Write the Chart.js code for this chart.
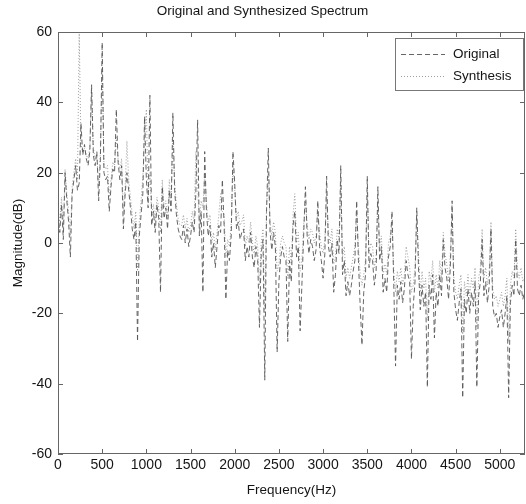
<!DOCTYPE html>
<html>
<head>
<meta charset="utf-8">
<title>Original and Synthesized Spectrum</title>
<script src="https://cdn.jsdelivr.net/npm/chart.js@4.4.0/dist/chart.umd.min.js"></script>
<style>
  html, body { margin: 0; padding: 0; background: #fff; }
  #spectrum { display: block; }
</style>
</head>
<body>
<canvas id="spectrum" width="526" height="504"></canvas>
<script>
// frequency bins (Hz)
const freqHz = [
  0, 20, 40, 60, 80, 100, 120, 140, 160, 180,
  200, 220, 240, 260, 280, 300, 320, 340, 360, 380,
  400, 420, 440, 460, 480, 500, 520, 540, 560, 580,
  600, 620, 640, 660, 680, 700, 720, 740, 760, 780,
  800, 820, 840, 860, 880, 900, 920, 940, 960, 980,
  1000, 1020, 1040, 1060, 1080, 1100, 1120, 1140, 1160, 1180,
  1200, 1220, 1240, 1260, 1280, 1300, 1320, 1340, 1360, 1380,
  1400, 1420, 1440, 1460, 1480, 1500, 1520, 1540, 1560, 1580,
  1600, 1620, 1640, 1660, 1680, 1700, 1720, 1740, 1760, 1780,
  1800, 1820, 1840, 1860, 1880, 1900, 1920, 1940, 1960, 1980,
  2000, 2020, 2040, 2060, 2080, 2100, 2120, 2140, 2160, 2180,
  2200, 2220, 2240, 2260, 2280, 2300, 2320, 2340, 2360, 2380,
  2400, 2420, 2440, 2460, 2480, 2500, 2520, 2540, 2560, 2580,
  2600, 2620, 2640, 2660, 2680, 2700, 2720, 2740, 2760, 2780,
  2800, 2820, 2840, 2860, 2880, 2900, 2920, 2940, 2960, 2980,
  3000, 3020, 3040, 3060, 3080, 3100, 3120, 3140, 3160, 3180,
  3200, 3220, 3240, 3260, 3280, 3300, 3320, 3340, 3360, 3380,
  3400, 3420, 3440, 3460, 3480, 3500, 3520, 3540, 3560, 3580,
  3600, 3620, 3640, 3660, 3680, 3700, 3720, 3740, 3760, 3780,
  3800, 3820, 3840, 3860, 3880, 3900, 3920, 3940, 3960, 3980,
  4000, 4020, 4040, 4060, 4080, 4100, 4120, 4140, 4160, 4180,
  4200, 4220, 4240, 4260, 4280, 4300, 4320, 4340, 4360, 4380,
  4400, 4420, 4440, 4460, 4480, 4500, 4520, 4540, 4560, 4580,
  4600, 4620, 4640, 4660, 4680, 4700, 4720, 4740, 4760, 4780,
  4800, 4820, 4840, 4860, 4880, 4900, 4920, 4940, 4960, 4980,
  5000, 5020, 5040, 5060, 5080, 5100, 5120, 5140, 5160, 5180,
  5200, 5220, 5240, 5260, 5280
];

// magnitude of the original frame (dB)
const originalDb = [
  8, 3, 11, 1, 20, 12, 6, -4, 14, 18,
  22, 15, 17, 34, 25, 28, 24, 22, 26, 45,
  25, 22, 26, 12, 24, 57, 20, 18, 19, 9,
  16, 21, 20, 38, 23, 18, 22, 4, 14, 20,
  15, 10, 4, 1, 6, -28, 2, 8, 14, 36,
  18, 10, 42, 5, 9, 3, 11, 7, -14, 16,
  7, 10, 4, 15, 9, 37, 15, 8, 4, 2,
  1, 5, 0, 4, -1, 2, 6, 3, 14, 35,
  2, 9, -14, 26, 9, 2, 5, -4, 0, -7,
  -1, 5, 3, 18, 5, -16, -2, -5, 2, 26,
  17, 4, 6, 1, 3, 4, -5, -1, -4, 3,
  -4, -7, -1, -5, -24, -3, 1, -39, 9, 27,
  3, -2, 3, -1, -31, -11, -4, -1, -4, -5,
  -28, -5, -11, 5, 9, -4, -1, -25, -12, 2,
  16, 2, -3, 1, -1, -5, -2, 12, -1, -5,
  -10, -3, 19, -1, -4, 0, -14, -9, 1, -3,
  22, -9, -5, -15, -11, -15, -12, -8, -5, 12,
  -5, -18, -29, -14, -9, 19, -7, -3, -5, -12,
  -8, 16, -5, -1, -14, -10, -14, -4, -1, 9,
  -12, -35, -12, -16, -11, -17, -13, -5, -9, -11,
  -33, -18, -11, 10, -7, -19, -12, -18, -14, -41,
  -12, -16, -9, -27, -14, -18, -9, -15, 1, -7,
  -10, -16, -7, 12, -14, -19, -22, -17, -13, -44,
  -16, -20, -13, -20, -14, -18, -11, -41, -15, -11,
  1, -15, -11, -17, -12, 4, -18, -21, -20, -24,
  -21, -19, -24, -20, -15, -44, -17, -12, -15, 1,
  -13, -15, -12, -16, -14
];

// magnitude of the resynthesized frame (dB)
const synthesisDb = [
  10, 6, 13, 4, 21, 14, 9, 2, 16, 20,
  24, 18, 60, 28, 26, 27, 25, 24, 27, 44,
  27, 24, 25, 16, 26, 50, 22, 21, 22, 13,
  18, 23, 22, 30, 24, 21, 24, 9, 16, 29,
  18, 13, 8, 4, 9, -8, 6, 12, 19, 30,
  38, 13, 20, 8, 11, 6, 13, 10, 3, 18,
  10, 12, 7, 18, 12, 30, 17, 11, 7, 5,
  5, 8, 4, 7, 3, 5, 9, 6, 26, 16,
  6, 12, 10, 20, 11, 6, 8, 0, 3, -2,
  3, 8, 14, 9, 8, -4, 1, -1, 5, 22,
  15, 7, 9, 5, 6, 8, -1, 2, 0, 6,
  0, -3, 2, -1, -12, 0, 4, -20, 10, 20,
  6, 2, 6, 3, -8, -6, 0, 2, 0, -1,
  -10, -1, -6, 8, 14, 0, 3, -8, -5, 5,
  12, 5, 1, 4, 3, 0, 2, 9, 3, -1,
  -3, 1, 14, 3, 0, 4, -6, -4, 4, 1,
  18, -4, -1, -10, -7, -10, -7, -4, -1, 9,
  -1, -9, -12, -9, -5, 15, -3, 0, -1, -7,
  -4, 12, -1, 2, -9, -6, -9, 0, 2, 6,
  -8, -14, -8, -11, -7, -12, -9, -1, -4, -7,
  -14, -12, -7, 8, -3, -14, -8, -13, -10, -22,
  -8, -11, -5, -14, -9, -13, -5, -10, 3, -3,
  -6, -11, -3, 9, -10, -14, -16, -12, -9, -26,
  -11, -15, -9, -15, -10, -13, -7, -24, -10, -7,
  4, -10, -7, -12, -8, 6, -13, -16, -15, -18,
  -16, -14, -18, -15, -10, -28, -12, -8, -10, 4,
  -8, -10, -7, -11, -10
];

const freqTicks = [0, 500, 1000, 1500, 2000, 2500, 3000, 3500, 4000, 4500, 5000];
const dbTicks = [-60, -40, -20, 0, 20, 40, 60];

const FONT = '"Liberation Sans", Arial, Helvetica, sans-serif';
const INK = '#151515';

function toPoints(values) {
  return freqHz.map((f, i) => ({ x: f, y: values[i] }));
}

// box around the axes, ticks pointing inward on all four sides
const axesBox = {
  id: 'axesBox',
  afterDatasetsDraw(chart) {
    const { ctx, chartArea: a, scales } = chart;
    ctx.save();
    ctx.strokeStyle = '#666';
    ctx.lineWidth = 1;
    ctx.strokeRect(a.left + 0.5, a.top + 0.5, a.width - 1, a.height - 1);
    ctx.beginPath();
    scales.x.ticks.forEach(t => {
      const px = Math.round(scales.x.getPixelForValue(t.value)) + 0.5;
      ctx.moveTo(px, a.bottom); ctx.lineTo(px, a.bottom - 5);
      ctx.moveTo(px, a.top); ctx.lineTo(px, a.top + 5);
    });
    scales.y.ticks.forEach(t => {
      const py = Math.round(scales.y.getPixelForValue(t.value)) + 0.5;
      ctx.moveTo(a.left, py); ctx.lineTo(a.left + 5, py);
      ctx.moveTo(a.right, py); ctx.lineTo(a.right - 5, py);
    });
    ctx.stroke();
    ctx.restore();
  }
};

// framed legend in the upper right corner of the plot
const boxLegend = {
  id: 'boxLegend',
  afterDraw(chart) {
    const { ctx, chartArea: a } = chart;
    const w = 128, h = 52;
    const left = a.right - w - 2, top = a.top + 6;
    ctx.save();
    ctx.fillStyle = '#fff';
    ctx.fillRect(left, top, w, h);
    ctx.strokeStyle = '#777';
    ctx.lineWidth = 1;
    ctx.strokeRect(left + 0.5, top + 0.5, w, h);
    chart.data.datasets.forEach((ds, i) => {
      const y = top + 16 + i * 22;
      ctx.beginPath();
      ctx.setLineDash(ds.borderDash || []);
      ctx.strokeStyle = ds.borderColor;
      ctx.lineWidth = ds.borderWidth;
      ctx.moveTo(left + 6, y + 0.5);
      ctx.lineTo(left + 50, y + 0.5);
      ctx.stroke();
      ctx.setLineDash([]);
      ctx.fillStyle = INK;
      ctx.font = '13.5px ' + FONT;
      ctx.textBaseline = 'middle';
      ctx.fillText(ds.label, left + 58, y);
    });
    ctx.restore();
  }
};

new Chart(document.getElementById('spectrum'), {
  type: 'line',
  data: {
    datasets: [
      {
        label: 'Original',
        data: toPoints(originalDb),
        borderColor: 'rgba(85, 85, 85, 0.9)',
        borderWidth: 1,
        borderDash: [5, 3],
        pointRadius: 0,
        tension: 0
      },
      {
        label: 'Synthesis',
        data: toPoints(synthesisDb),
        borderColor: 'rgba(140, 140, 140, 0.85)',
        borderWidth: 1,
        borderDash: [1, 2],
        pointRadius: 0,
        tension: 0
      }
    ]
  },
  options: {
    responsive: false,
    animation: false,
    events: [],
    layout: { padding: { left: 0, right: 1, top: 0, bottom: 0 } },
    plugins: {
      legend: { display: false },
      tooltip: { enabled: false },
      title: {
        display: true,
        text: 'Original and Synthesized Spectrum',
        color: INK,
        font: { family: FONT, size: 13.5, weight: 'normal' },
        padding: { top: 3, bottom: 12.8 }
      }
    },
    scales: {
      x: {
        type: 'linear',
        min: 0,
        max: 5285,
        afterBuildTicks: s => { s.ticks = freqTicks.map(v => ({ value: v })); },
        afterFit: s => { s.height = 50; },
        grid: { display: false, drawTicks: false },
        border: { display: false },
        ticks: {
          color: INK,
          font: { family: FONT, size: 14 },
          padding: 3,
          maxRotation: 0,
          autoSkip: false,
          callback: v => String(v)
        },
        title: {
          display: true,
          text: 'Frequency(Hz)',
          color: INK,
          font: { family: FONT, size: 13.5 },
          padding: { top: 0, bottom: 6 }
        }
      },
      y: {
        type: 'linear',
        min: -60,
        max: 60,
        afterBuildTicks: s => { s.ticks = dbTicks.map(v => ({ value: v })); },
        afterFit: s => { s.width = 58; },
        grid: { display: false, drawTicks: false },
        border: { display: false },
        ticks: {
          color: INK,
          font: { family: FONT, size: 14 },
          padding: 6,
          callback: v => String(v)
        },
        title: {
          display: true,
          text: 'Magnitude(dB)',
          color: INK,
          font: { family: FONT, size: 13.5 },
          padding: { top: 10, bottom: 0 }
        }
      }
    }
  },
  plugins: [axesBox, boxLegend]
});
</script>
</body>
</html>
